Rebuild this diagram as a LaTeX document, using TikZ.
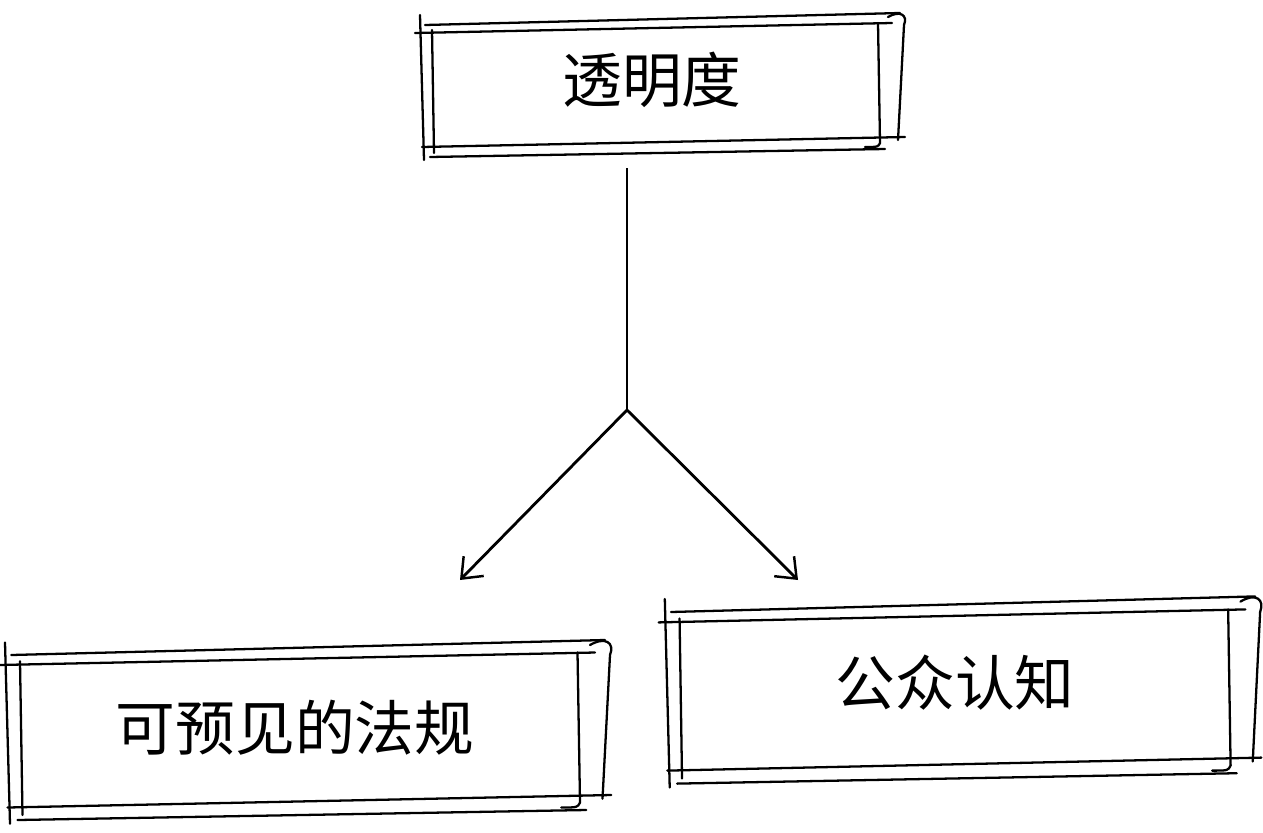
\documentclass[tikz,border=0pt]{standalone}
\usepackage{fontspec}
\newfontfamily\cjk{Noto Sans CJK SC}
\usetikzlibrary{arrows.meta}
\begin{document}
\begin{tikzpicture}[x=0.02cm,y=-0.02cm,
  sk/.style={line width=1.3pt,line cap=round,black},
  lbl/.style={font=\cjk\fontsize{34}{40}\selectfont,inner sep=0pt},
  arr/.style={line width=1.6pt,-{Straight Barb[length=10pt,width=16pt,line width=1.4pt]}}]
\useasboundingbox (0,0) rectangle (1263,832);
% sketchy box macro via pic
\tikzset{sbox/.pic={
  \draw[sk] (-235,-60) -- (240,-72) (-245,-52) -- (232,-62);
  \draw[sk] (-238,62) -- (245,52) (-230,72) -- (225,64);
  \draw[sk] (-240,-70) -- (-236,75) (-228,-55) -- (-226,68);
  \draw[sk] (228,-68) .. controls (240,-75) and (248,-70) .. (244,-60) -- (238,55);
  \draw[sk] (218,-62) -- (220,58) .. controls (218,62) .. (205,62);
}}
\pic at (660,85) {sbox};
\pic[xscale=1.25,yscale=1.25] at (305,730) {sbox};
\pic[xscale=1.23,yscale=1.3] at (960,690) {sbox};
\node[lbl] (t) at (652,80) {透明度};
\node[lbl] (l) at (295,728) {可预见的法规};
\node[lbl] (r) at (955,683) {公众认知};
\coordinate (s) at (627,168);
\coordinate (j) at (627,410);
\coordinate (a1) at (460,580);
\coordinate (a2) at (798,580);
\draw[line width=1.6pt] (s) -- (j);
\draw[arr] (j) -- (a1);
\draw[arr] (j) -- (a2);
\end{tikzpicture}
\end{document}
